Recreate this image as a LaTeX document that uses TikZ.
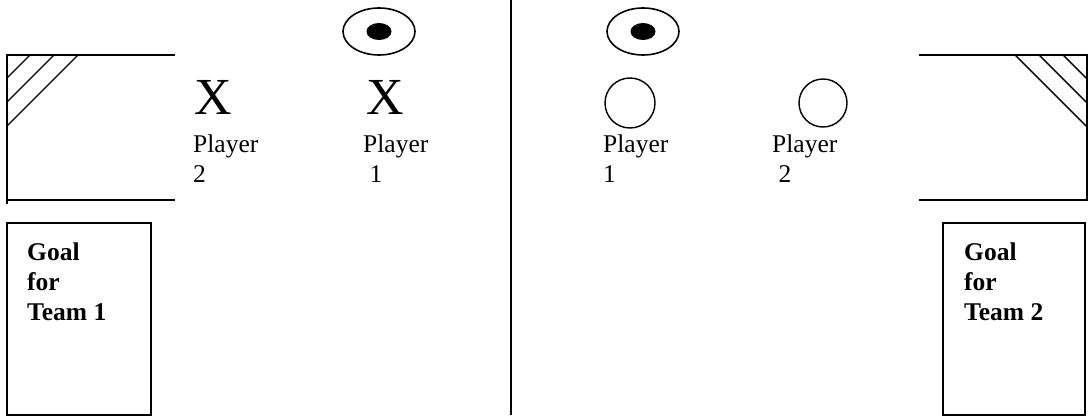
\documentclass[tikz,border=0pt]{standalone}
\usepackage{fontspec}
\setmainfont{Liberation Serif}
\usepackage{tikz}
\tikzset{
  court/.style={line width=2pt},
  hatch/.style={line width=1.4pt},
  lbl/.style={font=\fontsize{25.5}{30}\selectfont, align=left, inner sep=0pt, anchor=base west},
  goallbl/.style={lbl, font=\fontsize{25.5}{30}\selectfont\bfseries},
  xmark/.style={font=\fontsize{52}{52}\selectfont, inner sep=0pt},
}

\begin{document}
\begin{tikzpicture}[x=1pt,y=-1pt]
        \useasboundingbox (0,0) rectangle (1089,417);
        \draw[court] (511,0)--(511,415);
        \draw[court] (175,55)--(7,55)--(7,204);
        \draw[court] (7,200)--(175,200);
        \foreach \h in {23,47,71}{
          \draw[hatch] (7+\h,55)--(7,55+\h);
        }
        \draw[court] (919,55)--(1087,55)--(1087,200)--(919,200);
        \foreach \h in {24,48,72}{
          \draw[hatch] (1087-\h,55)--(1087,55+\h);
        }
        \foreach \x in {379,643}{
          \draw[line width=1.6pt] (\x,31.5) ellipse [x radius=36, y radius=23.5];
          \fill (\x,31.5) ellipse [x radius=12.5, y radius=8.5];
        }
        \node[xmark] (xtwo) at (213.5,97.5) {X};
        \node[xmark] (xone) at (385,97.5) {X};
        \draw[line width=1.4pt] (630,103) circle (25);
        \draw[line width=1.4pt] (823,103) circle (24);
        \node[lbl] (ptwoleft) at (193,182) {Player\\2};
        \node[lbl] (poneleft) at (363,182) {Player\\\ 1};
        \node[lbl] (poneright) at (603,182) {Player\\1};
        \node[lbl] (ptworight) at (772,182) {Player\\\ 2};
        \draw[court] (7,223) rectangle (151,415);
        \node[goallbl] (goalone) at (27,320) {Goal\\for\\Team 1};
        \draw[court] (943,223) rectangle (1085,415);
        \node[goallbl] (goaltwo) at (964,320) {Goal\\for\\Team 2};
      \end{tikzpicture}
\end{document}
